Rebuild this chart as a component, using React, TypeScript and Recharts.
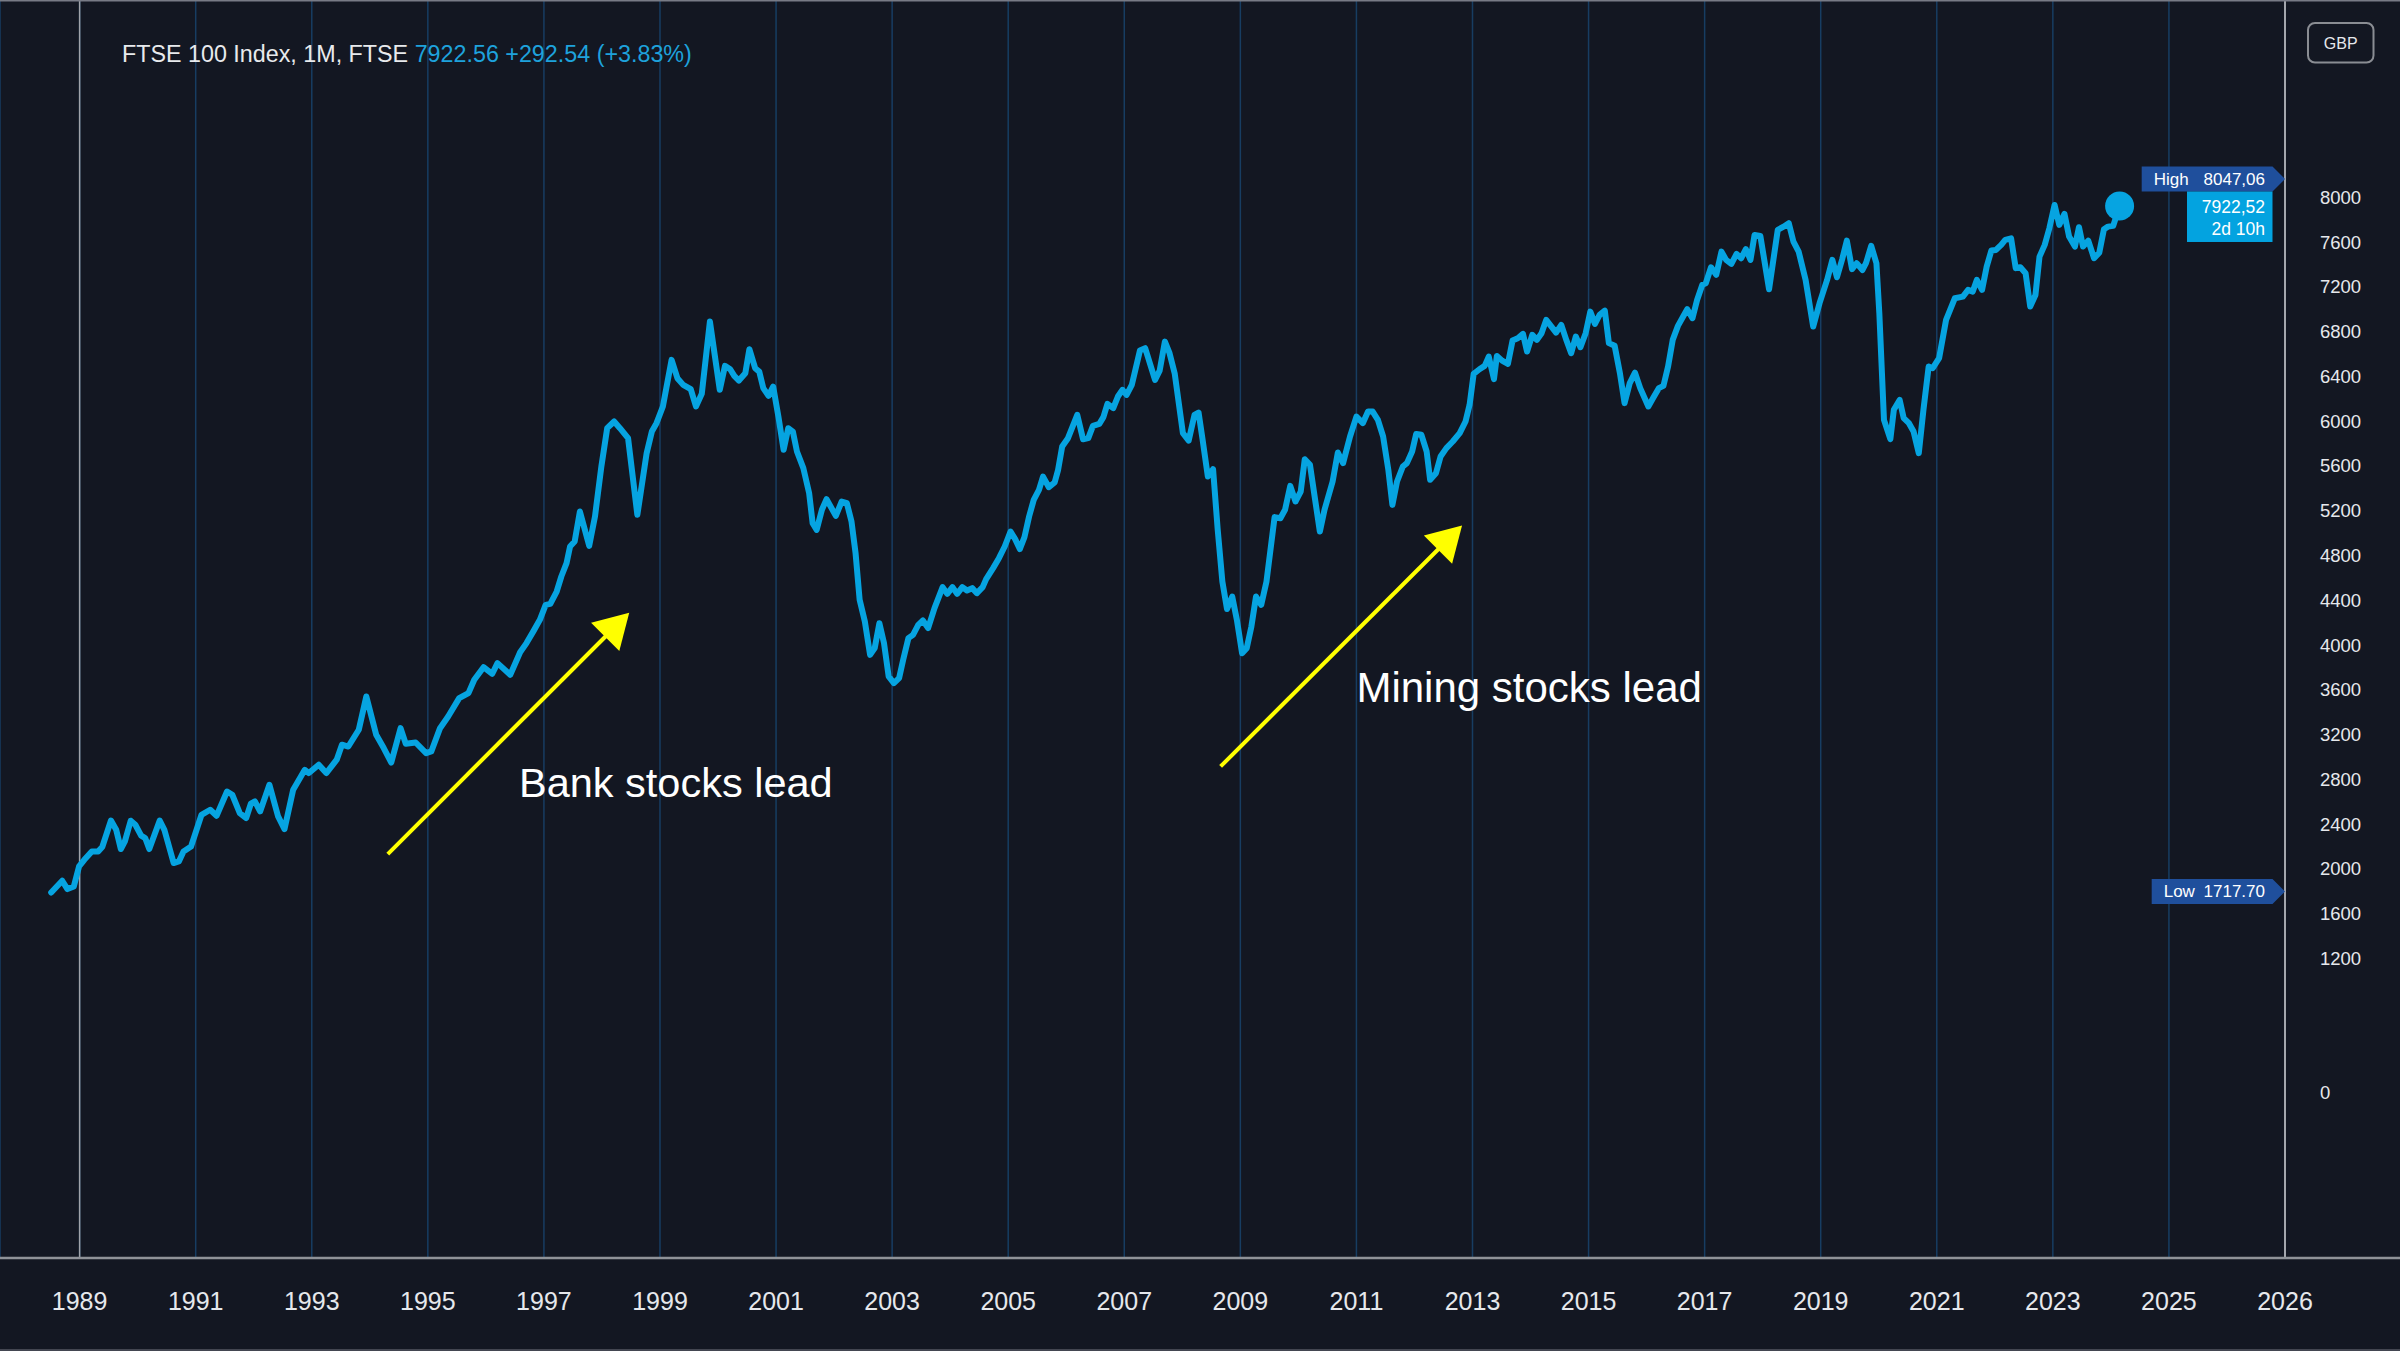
import React from 'react';
import {
  LineChart,
  Line,
  XAxis,
  YAxis,
  CartesianGrid,
  ReferenceLine,
  ReferenceDot,
} from 'recharts';

const W = 2400;
const H = 1351;
const Y_AXIS_W = 115;
const X_AXIS_H = 93;
const PLOT_BOTTOM = H - X_AXIS_H;

const BG = '#131722';
const LINE = '#06a4e1';
const YELLOW = '#ffff00';
const TEXT = '#e6e8ec';
const GRID = '#173d62';
const FONT = "'Liberation Sans', Arial, sans-serif";

// ---- series: monthly closes (fractional year, index level)
const times = [
  1988.51, 1988.7, 1988.79, 1988.9, 1988.99, 1989.08, 1989.21, 1989.32, 1989.39, 1989.54,
  1989.63, 1989.71, 1989.78, 1989.88, 1989.96, 1990.06, 1990.13, 1990.2, 1990.38, 1990.46,
  1990.62, 1990.71, 1990.79, 1990.92, 1991.1, 1991.25, 1991.36, 1991.54, 1991.63, 1991.76,
  1991.87, 1991.95, 1992.02, 1992.11, 1992.27, 1992.42, 1992.53, 1992.68, 1992.88, 1992.95,
  1993.12, 1993.25, 1993.43, 1993.52, 1993.63, 1993.81, 1993.94, 1994.11, 1994.24, 1994.37,
  1994.53, 1994.62, 1994.79, 1994.97, 1995.06, 1995.21, 1995.35, 1995.54, 1995.7, 1995.8,
  1995.96, 1996.11, 1996.2, 1996.42, 1996.59, 1996.7, 1996.82, 1996.93, 1997.03, 1997.11,
  1997.22, 1997.3, 1997.39, 1997.45, 1997.53, 1997.62, 1997.78, 1997.88, 1997.99, 1998.09,
  1998.21, 1998.31, 1998.45, 1998.61, 1998.77, 1998.86, 1998.94, 1999.05, 1999.2, 1999.3,
  1999.4, 1999.53, 1999.62, 1999.72, 1999.86, 2000.03, 2000.12, 2000.21, 2000.28, 2000.36,
  2000.47, 2000.54, 2000.64, 2000.71, 2000.78, 2000.87, 2000.95, 2001.04, 2001.13, 2001.21,
  2001.29, 2001.36, 2001.47, 2001.57, 2001.63, 2001.7, 2001.79, 2001.87, 2002.03, 2002.13,
  2002.22, 2002.3, 2002.37, 2002.44, 2002.53, 2002.62, 2002.7, 2002.78, 2002.86, 2002.94,
  2003.03, 2003.12, 2003.19, 2003.28, 2003.36, 2003.45, 2003.53, 2003.62, 2003.73, 2003.87,
  2003.95, 2004.04, 2004.12, 2004.21, 2004.29, 2004.38, 2004.46, 2004.56, 2004.62, 2004.74,
  2004.84, 2004.94, 2005.04, 2005.12, 2005.2, 2005.28, 2005.36, 2005.44, 2005.53, 2005.6,
  2005.7, 2005.8, 2005.86, 2005.93, 2006.03, 2006.19, 2006.29, 2006.38, 2006.46, 2006.57,
  2006.64, 2006.71, 2006.81, 2006.89, 2006.97, 2007.04, 2007.13, 2007.27, 2007.36, 2007.53,
  2007.61, 2007.7, 2007.78, 2007.87, 2008.01, 2008.11, 2008.21, 2008.28, 2008.35, 2008.44,
  2008.53, 2008.61, 2008.69, 2008.77, 2008.86, 2008.94, 2009.03, 2009.11, 2009.19, 2009.27,
  2009.36, 2009.45, 2009.59, 2009.69, 2009.77, 2009.86, 2009.95, 2010.04, 2010.11, 2010.2,
  2010.28, 2010.37, 2010.45, 2010.59, 2010.68, 2010.77, 2010.89, 2011.0, 2011.11, 2011.2,
  2011.28, 2011.37, 2011.46, 2011.55, 2011.62, 2011.7, 2011.8, 2011.87, 2011.96, 2012.03,
  2012.12, 2012.21, 2012.27, 2012.37, 2012.45, 2012.55, 2012.66, 2012.78, 2012.88, 2012.95,
  2013.02, 2013.12, 2013.21, 2013.28, 2013.37, 2013.42, 2013.51, 2013.61, 2013.69, 2013.78,
  2013.87, 2013.94, 2014.03, 2014.11, 2014.19, 2014.27, 2014.36, 2014.44, 2014.53, 2014.62,
  2014.7, 2014.78, 2014.86, 2014.95, 2015.03, 2015.11, 2015.19, 2015.28, 2015.35, 2015.45,
  2015.54, 2015.62, 2015.71, 2015.8, 2015.89, 2016.03, 2016.11, 2016.21, 2016.29, 2016.37,
  2016.45, 2016.54, 2016.63, 2016.7, 2016.79, 2016.87, 2016.96, 2017.02, 2017.11, 2017.2,
  2017.29, 2017.37, 2017.46, 2017.55, 2017.63, 2017.71, 2017.79, 2017.86, 2017.96, 2018.11,
  2018.26, 2018.36, 2018.45, 2018.53, 2018.62, 2018.74, 2018.87, 2018.98, 2019.11, 2019.2,
  2019.28, 2019.37, 2019.45, 2019.54, 2019.62, 2019.72, 2019.78, 2019.87, 2019.96, 2020.01,
  2020.09, 2020.2, 2020.26, 2020.36, 2020.43, 2020.52, 2020.6, 2020.69, 2020.77, 2020.86,
  2020.93, 2021.04, 2021.16, 2021.31, 2021.45, 2021.54, 2021.62, 2021.69, 2021.78, 2021.86,
  2021.94, 2022.02, 2022.11, 2022.18, 2022.28, 2022.36, 2022.44, 2022.53, 2022.61, 2022.7,
  2022.77, 2022.86, 2022.94, 2023.03, 2023.11, 2023.2, 2023.28, 2023.38, 2023.45, 2023.52,
  2023.61, 2023.71, 2023.8, 2023.88, 2023.95, 2024.04, 2024.15,
];

const closes = [
  1789, 1894, 1819, 1843, 2022, 2081, 2156, 2156, 2195, 2432,
  2349, 2177, 2245, 2430, 2394, 2296, 2275, 2177, 2432, 2349,
  2052, 2066, 2156, 2200, 2483, 2528, 2474, 2691, 2662, 2498,
  2454, 2582, 2602, 2513, 2751, 2468, 2355, 2707, 2885, 2856,
  2930, 2856, 2975, 3109, 3093, 3243, 3540, 3198, 3079, 2950,
  3257, 3117, 3129, 3034, 3049, 3257, 3361, 3525, 3570, 3689,
  3802, 3743, 3838, 3734, 3935, 4017, 4124, 4225, 4359, 4368,
  4478, 4612, 4731, 4880, 4925, 5193, 4886, 5148, 5595, 5937,
  5997, 5937, 5848, 5163, 5714, 5907, 5982, 6131, 6548, 6384,
  6324, 6286, 6131, 6244, 6890, 6280, 6494, 6464, 6405, 6363,
  6428, 6643, 6473, 6443, 6295, 6226, 6309, 6041, 5744, 5937,
  5907, 5729, 5580, 5357, 5089, 5029, 5208, 5303, 5154, 5282,
  5267, 5103, 4821, 4404, 4210, 3912, 3972, 4195, 4017, 3719,
  3659, 3704, 3868, 4061, 4091, 4180, 4219, 4151, 4329, 4517,
  4457, 4517, 4457, 4517, 4487, 4508, 4463, 4517, 4589, 4687,
  4776, 4880, 5014, 4946, 4857, 4964, 5148, 5297, 5386, 5505,
  5410, 5452, 5565, 5773, 5848, 6056, 5839, 5848, 5958, 5976,
  6036, 6155, 6116, 6220, 6280, 6235, 6324, 6631, 6652, 6369,
  6452, 6711, 6607, 6423, 5893, 5827, 6056, 6077, 5833, 5505,
  5571, 5029, 4567, 4321, 4433, 4225, 3927, 3972, 4165, 4433,
  4359, 4567, 5143, 5133, 5208, 5422, 5282, 5371, 5660, 5610,
  5327, 5014, 5208, 5461, 5720, 5625, 5863, 6041, 5982, 6086,
  6086, 6012, 5863, 5565, 5252, 5461, 5595, 5625, 5729, 5886,
  5878, 5729, 5476, 5535, 5684, 5759, 5818, 5893, 5997, 6146,
  6423, 6464, 6494, 6577, 6375, 6583, 6541, 6512, 6720, 6741,
  6780, 6622, 6771, 6726, 6786, 6905, 6845, 6791, 6860, 6720,
  6607, 6756, 6661, 6786, 6979, 6869, 6950, 6988, 6697, 6673,
  6429, 6161, 6340, 6434, 6295, 6131, 6205, 6295, 6315, 6488,
  6726, 6851, 6935, 7000, 6920, 7083, 7218, 7232, 7375, 7307,
  7515, 7441, 7405, 7494, 7456, 7537, 7441, 7664, 7655, 7179,
  7709, 7738, 7769, 7604, 7515, 7262, 6845, 7054, 7262, 7441,
  7286, 7447, 7613, 7358, 7411, 7351, 7411, 7566, 7411, 6965,
  6012, 5839, 6101, 6190, 6027, 5982, 5907, 5714, 6101, 6488,
  6473, 6563, 6905, 7098, 7113, 7173, 7158, 7262, 7173, 7381,
  7524, 7530, 7575, 7620, 7634, 7367, 7375, 7322, 7024, 7128,
  7470, 7575, 7724, 7932, 7754, 7852, 7649, 7560, 7733, 7560,
  7613, 7456, 7506, 7715, 7738, 7745, 7922,
];

// ---- axes
const xTicks = [
  1989, 1991, 1993, 1995, 1997, 1999, 2001, 2003, 2005, 2007,
  2009, 2011, 2013, 2015, 2017, 2019, 2021, 2023, 2025, 2027,
];
const xTickLabels = [
  '1989', '1991', '1993', '1995', '1997', '1999', '2001', '2003', '2005', '2007',
  '2009', '2011', '2013', '2015', '2017', '2019', '2021', '2023', '2025', '2026',
];
const yTicks = [0, 1200, 1600, 2000, 2400, 2800, 3200, 3600, 4000, 4400, 4800, 5200, 5600, 6000, 6400, 6800, 7200, 7600, 8000];
const xDomain = [1987.628, 2027];
const yDomain = [-1477, 9763];

// ---- header / labels
const titleMain = 'FTSE 100 Index, 1M, FTSE';
const titleQuote = '7922.56 +292.54 (+3.83%)';
const currency = 'GBP';
const highValue = 8047.06;
const highText = ['High', '8047,06'];
const lowValue = 1717.7;
const lowText = ['Low', '1717.70'];
const lastPrice = 7922.52;
const lastPriceText = ['7922,52', '2d 10h'];

// ---- annotations (data coordinates)
const bankArrow = [{ x: 1994.31, y: 2132 }, { x: 1998.47, y: 4288 }];
const miningArrow = [{ x: 2008.66, y: 2915 }, { x: 2012.82, y: 5067 }];
const bankLabel = { x: 1996.57, y: 2644, text: 'Bank stocks lead' };
const miningLabel = { x: 2011.0, y: 3495, text: 'Mining stocks lead' };

const data = times.map((t, i) => ({ t, v: closes[i] }));
const lastT = times[times.length - 1];
const lastV = closes[closes.length - 1];

const Arrow = (p: any) => {
  const { x1, y1, x2, y2 } = p;
  const dx = x2 - x1;
  const dy = y2 - y1;
  const len = Math.hypot(dx, dy) || 1;
  const ux = dx / len;
  const uy = dy / len;
  const head = 34;
  const half = 20;
  const bx = x2 - ux * head;
  const by = y2 - uy * head;
  const nx = -uy;
  const ny = ux;
  return (
    <g>
      <line x1={x1} y1={y1} x2={bx + ux * 4} y2={by + uy * 4} stroke={YELLOW} strokeWidth={4} />
      <polygon
        points={`${x2},${y2} ${bx + nx * half},${by + ny * half} ${bx - nx * half},${by - ny * half}`}
        fill={YELLOW}
      />
    </g>
  );
};

const makeTextShape = (text: string, size: number) => (p: any) => (
  <text x={p.cx} y={p.cy} fill="#ffffff" fontSize={size} fontFamily={FONT}>
    {text}
  </text>
);

const MarkerLabel = (labels: string[], dy: number, left: number) => (p: any) => {
  const cx = p.cx;
  const c = p.cy + dy;
  const right = cx - 12.5;
  return (
    <g>
      <polygon
        points={`${cx - left},${c - 12.5} ${right},${c - 12.5} ${cx},${c} ${right},${c + 12.5} ${cx - left},${c + 12.5}`}
        fill="#1f4f9c"
      />
      <text x={cx - left + 12} y={c + 6} fill="#ffffff" fontSize={17} fontFamily={FONT}>
        {labels[0]}
      </text>
      <text x={cx - 20} y={c + 6} fill="#ffffff" fontSize={17} fontFamily={FONT} textAnchor="end">
        {labels[1]}
      </text>
    </g>
  );
};

const PriceBox = (p: any) => {
  const cx = p.cx;
  const cy = p.cy;
  return (
    <g>
      <rect x={cx - 98} y={cy - 14.5} width={85.5} height={50.5} fill="#03a3e0" />
      <text x={cx - 20} y={cy + 7} fill="#ffffff" fontSize={17.5} fontFamily={FONT} textAnchor="end">
        {lastPriceText[0]}
      </text>
      <text x={cx - 20} y={cy + 29} fill="#ffffff" fontSize={17.5} fontFamily={FONT} textAnchor="end">
        {lastPriceText[1]}
      </text>
    </g>
  );
};

export default function App() {
  return (
    <div style={{ position: 'absolute', left: 0, top: 0, width: W, height: H, background: BG, overflow: 'hidden' }}>
      <LineChart width={W} height={H} data={data} margin={{ top: 0, right: 0, bottom: 0, left: 0 }}>
        <CartesianGrid horizontal={false} stroke={GRID} strokeWidth={1.5} />
        <XAxis
          dataKey="t"
          type="number"
          domain={xDomain}
          allowDataOverflow
          ticks={xTicks}
          interval={0}
          tickFormatter={(v: number) => xTickLabels[xTicks.indexOf(v)] ?? ''}
          axisLine={false}
          tickLine={false}
          tickSize={0}
          tickMargin={34}
          height={X_AXIS_H}
          tick={{ fill: TEXT, fontSize: 25, fontFamily: FONT }}
        />
        <YAxis
          orientation="right"
          type="number"
          domain={yDomain}
          allowDataOverflow
          ticks={yTicks}
          interval={0}
          width={Y_AXIS_W}
          axisLine={{ stroke: '#a3a6ad', strokeWidth: 2 }}
          tickLine={false}
          tickSize={0}
          tickMargin={35}
          tick={{ fill: TEXT, fontSize: 18.5, fontFamily: FONT }}
        />
        <ReferenceLine x={1989} stroke="#a0a3aa" strokeWidth={1.5} />
        <ReferenceLine segment={bankArrow} ifOverflow="visible" shape={Arrow} />
        <ReferenceLine segment={miningArrow} ifOverflow="visible" shape={Arrow} />
        <Line
          dataKey="v"
          type="linear"
          stroke={LINE}
          strokeWidth={6}
          strokeLinejoin="round"
          strokeLinecap="round"
          dot={false}
          activeDot={false}
          isAnimationActive={false}
        />
        <ReferenceDot x={lastT} y={lastV} r={14.5} fill={LINE} stroke="none" ifOverflow="visible" />
        <ReferenceDot x={bankLabel.x} y={bankLabel.y} r={0} ifOverflow="visible" shape={makeTextShape(bankLabel.text, 41.5)} />
        <ReferenceDot x={miningLabel.x} y={miningLabel.y} r={0} ifOverflow="visible" shape={makeTextShape(miningLabel.text, 42)} />
        <ReferenceDot x={xDomain[1]} y={highValue} r={0} ifOverflow="visible" shape={MarkerLabel(highText, -13, 143.3)} />
        <ReferenceDot x={xDomain[1]} y={lastPrice} r={0} ifOverflow="visible" shape={PriceBox} />
        <ReferenceDot x={xDomain[1]} y={lowValue} r={0} ifOverflow="visible" shape={MarkerLabel(lowText, -9, 133.3)} />
      </LineChart>
      <svg
        width={W}
        height={H}
        style={{ position: 'absolute', left: 0, top: 0, pointerEvents: 'none' }}
      >
        <line x1={0} y1={0.75} x2={W} y2={0.75} stroke="#787b86" strokeWidth={1.5} />
        <line x1={0} y1={H - 1} x2={W} y2={H - 1} stroke="#434651" strokeWidth={2} />
        <line x1={0} y1={PLOT_BOTTOM} x2={W} y2={PLOT_BOTTOM} stroke="#8f9298" strokeWidth={2.5} />
        <text x={122} y={62} fontSize={23.3} fontFamily={FONT}>
          <tspan fill="#e8eaed">{titleMain} </tspan>
          <tspan fill="#1ea2dc">{titleQuote}</tspan>
        </text>
        <rect x={2308} y={23} width={65.5} height={39.5} rx={7} fill="none" stroke="#8a8d93" strokeWidth={2} />
        <text x={2340.7} y={48.5} fontSize={16} fontFamily={FONT} fill="#e6e8ec" textAnchor="middle">
          {currency}
        </text>
      </svg>
    </div>
  );
}
